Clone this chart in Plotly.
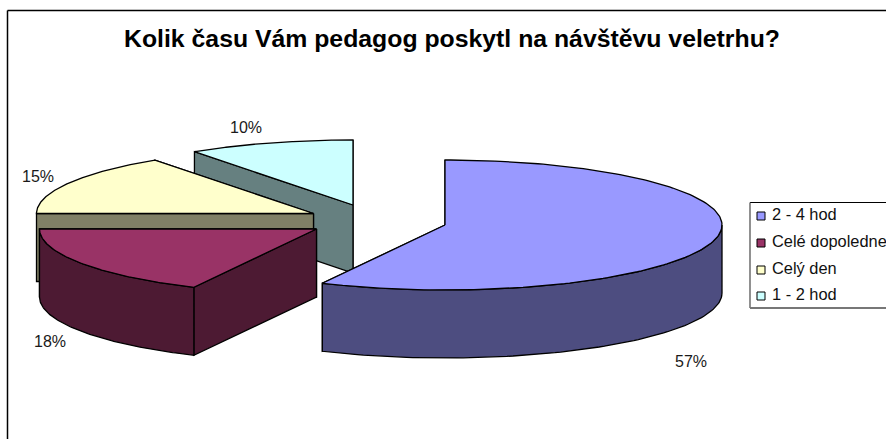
import numpy as np
import plotly.graph_objects as go

categories = ["2 - 4 hod", "Celé dopoledne", "Celý den", "1 - 2 hod"]
shares = [57.3, 17.7, 15.3, 9.7]
title_text = "Kolik času Vám pedagog poskytl na návštěvu veletrhu?"

# styling / layout constants (pixel space of the 886x439 canvas)
TOP = ["#9999FF", "#993366", "#FFFFCC", "#CCFFFF"]
SIDE = ["#4D4D80", "#4D1A33", "#808066", "#668080"]
APEX = [(445, 225), (316.5, 229), (313.5, 213.5), (353, 205)]
LABEL_XY = [(691, 361), (50, 341), (38, 176), (246, 127)]
LEGEND_ROWS = [216, 243, 270, 296]
RX, RY, DEPTH = 277, 65, 68
FONT = "Liberation Sans, Arial, sans-serif"
LINE = 1.3

def pt(c, a):
    r = np.radians(a)
    return c[0] + RX * np.sin(r), c[1] - RY * np.cos(r)

fig = go.Figure()

def poly(xs, ys, color):
    fig.add_trace(go.Scatter(x=list(xs), y=list(ys), mode="lines", fill="toself",
                             fillcolor=color, line=dict(color="black", width=LINE),
                             hoverinfo="skip", showlegend=False))

edges = np.cumsum([0] + shares) / sum(shares) * 360
for i in [3, 2, 1, 0]:
    a0, a1 = edges[i], edges[i + 1]
    c = APEX[i]
    for a in sorted([a0, a1], key=lambda v: -np.cos(np.radians(v))):
        px, py = pt(c, a)
        poly([c[0], px, px, c[0], c[0]], [c[1], py, py + DEPTH, c[1] + DEPTH, c[1]], SIDE[i])
    w0, w1 = max(a0, 90), min(a1, 270)
    if w1 > w0:
        t = np.linspace(w0, w1, 90)
        wx, wy = pt(c, t)
        poly(np.r_[wx, wx[::-1], wx[0]], np.r_[wy, wy[::-1] + DEPTH, wy[0]], SIDE[i])
    t = np.linspace(a0, a1, 180)
    tx, ty = pt(c, t)
    poly(np.r_[c[0], tx, c[0]], np.r_[c[1], ty, c[1]], TOP[i])

for share, (x, y) in zip(shares, LABEL_XY):
    fig.add_annotation(x=x, y=y, text=f"{round(share)}%", showarrow=False,
                       font=dict(family=FONT, size=16, color="#1a1a1a"))

# chart frame
fig.add_shape(type="line", x0=7.5, x1=886, y0=10.5, y1=10.5, line=dict(color="black", width=1.5))
fig.add_shape(type="line", x0=7.5, x1=7.5, y0=10.5, y1=439, line=dict(color="black", width=1.5))

# legend box, running off the right edge as in the reference
fig.add_shape(type="line", x0=750, x1=886, y0=202.5, y1=202.5, line=dict(color="black", width=1))
fig.add_shape(type="line", x0=750, x1=750, y0=202.5, y1=308, line=dict(color="#555555", width=1.3))
fig.add_shape(type="line", x0=750, x1=886, y0=308, y1=308, line=dict(color="#777777", width=2))
fig.add_trace(go.Scatter(x=[761] * len(categories), y=LEGEND_ROWS, mode="markers",
                         marker=dict(symbol="square", size=8, color=TOP,
                                     line=dict(color="black", width=1)),
                         hoverinfo="skip", showlegend=False))
fig.add_trace(go.Scatter(x=[772] * len(categories), y=LEGEND_ROWS, mode="text",
                         text=categories, textposition="middle right",
                         textfont=dict(family=FONT, size=16.4, color="#111111"),
                         hoverinfo="skip", showlegend=False, cliponaxis=False))

fig.update_layout(
    width=886, height=439, margin=dict(l=0, r=0, t=0, b=0),
    paper_bgcolor="white", plot_bgcolor="white", showlegend=False,
    title=dict(text=f"<b>{title_text}</b>", x=452 / 886, xanchor="center",
               y=1 - 38 / 439, yanchor="middle",
               font=dict(family=FONT, size=24.8, color="black")),
    xaxis=dict(range=[0, 886], visible=False, fixedrange=True),
    yaxis=dict(range=[439, 0], visible=False, fixedrange=True),
)
fig.write_html("out.html", config=dict(displayModeBar=False),
               post_script="document.body.style.margin='0';document.body.style.overflow='hidden';")
